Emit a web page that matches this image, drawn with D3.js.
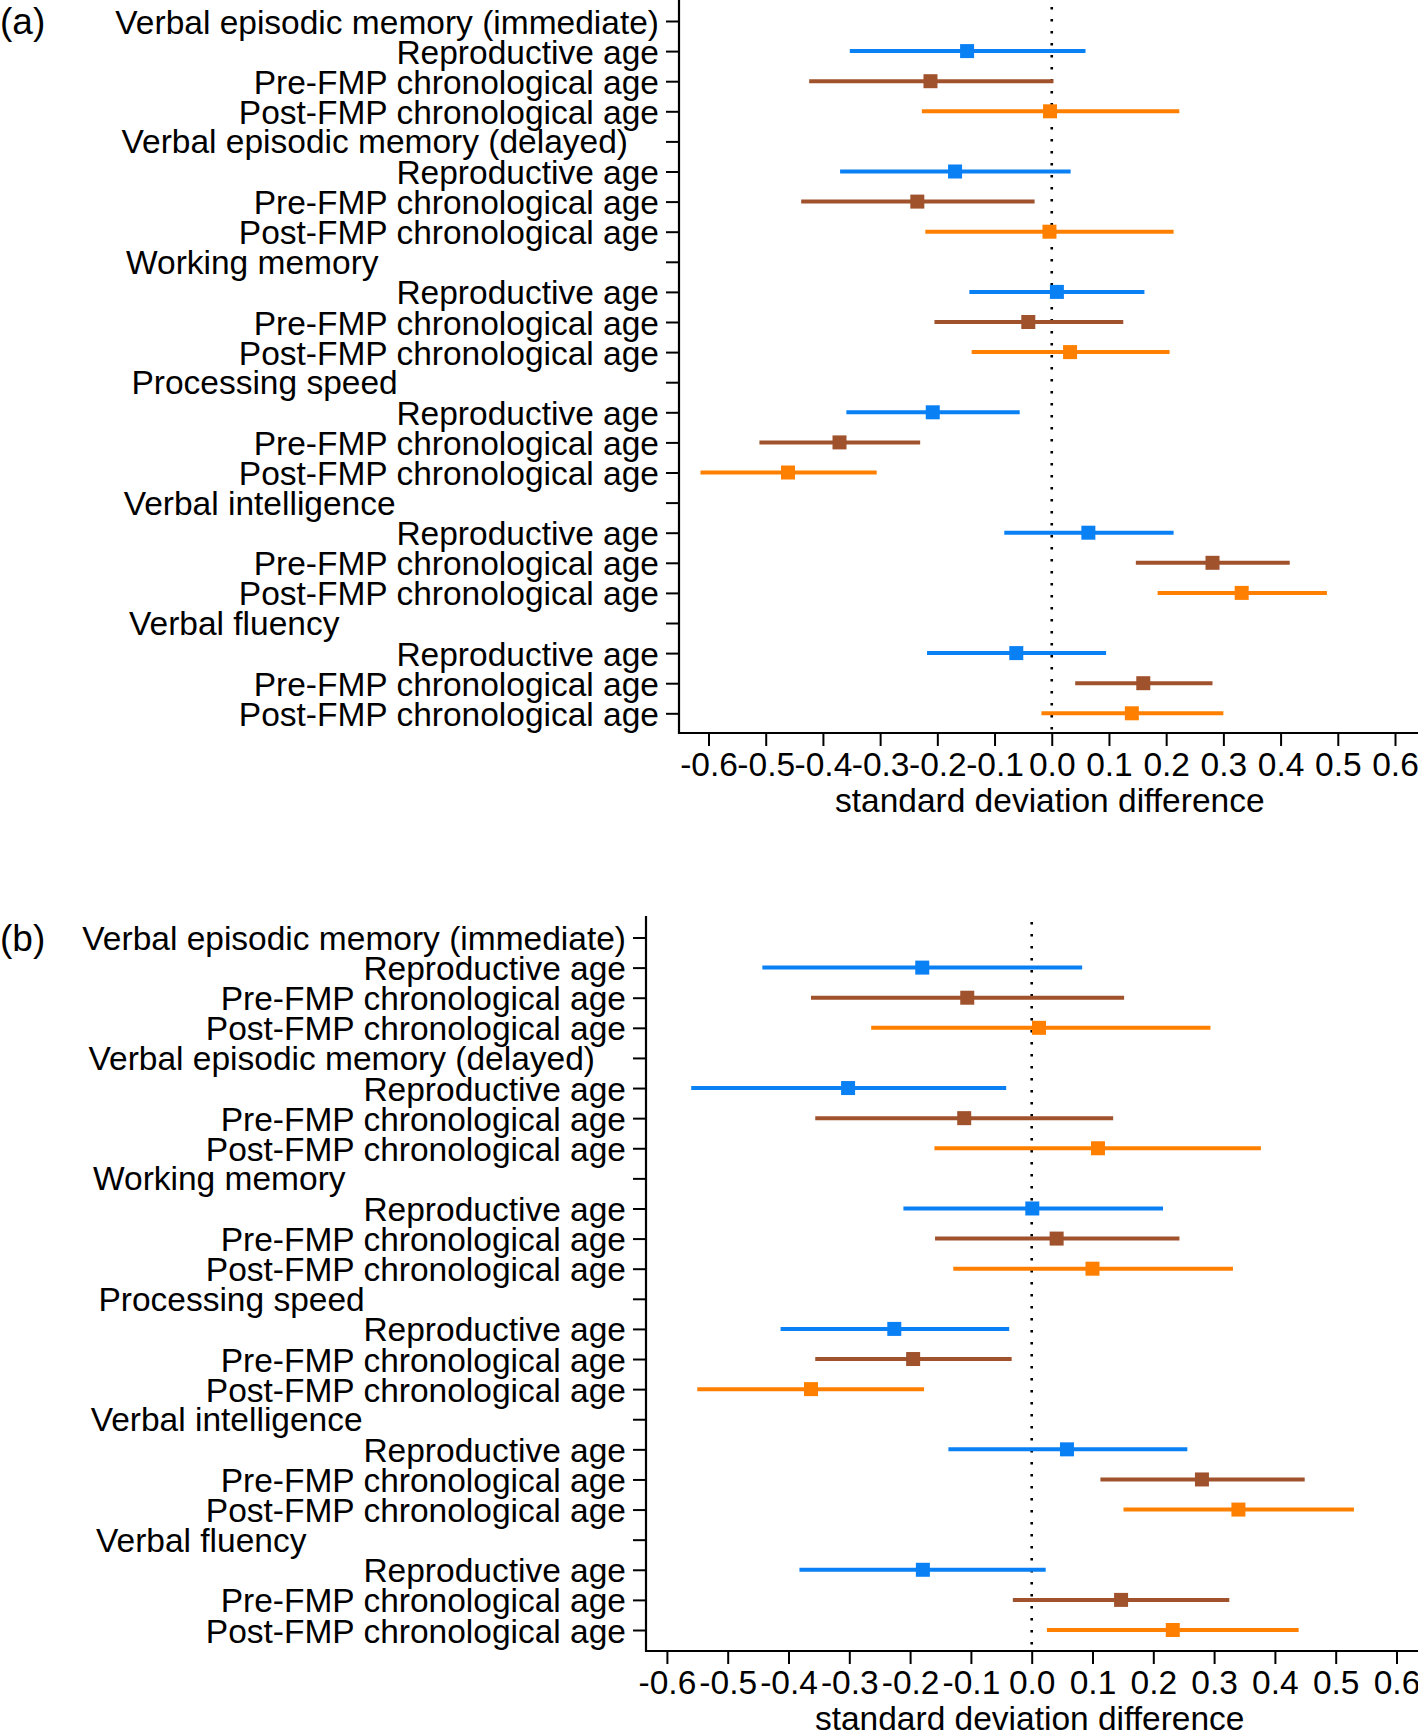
<!DOCTYPE html>
<html><head><meta charset="utf-8">
<script src="https://cdn.jsdelivr.net/npm/d3@7"></script>
<style>
body{margin:0;background:#fff}
svg{display:block}
text{font-family:"Liberation Sans",Arial,Helvetica,sans-serif}
</style>
</head><body>
<script>
// ---------- DATA ----------
const domains = [
  "Verbal episodic memory (immediate)",
  "Verbal episodic memory (delayed)",
  "Working memory",
  "Processing speed",
  "Verbal intelligence",
  "Verbal fluency"
];
const exposures = ["Reproductive age", "Pre-FMP chronological age", "Post-FMP chronological age"];
const tickValues = [-0.6, -0.5, -0.4, -0.3, -0.2, -0.1, 0.0, 0.1, 0.2, 0.3, 0.4, 0.5, 0.6];
const tickLabels = ["-0.6","-0.5","-0.4","-0.3","-0.2","-0.1","0.0","0.1","0.2","0.3","0.4","0.5","0.6"];
const xTitle = "standard deviation difference";

// Panel (a): per domain, [Reproductive, Pre-FMP, Post-FMP]
const aEst = [
  [-0.148, -0.212, -0.003],
  [-0.169, -0.235, -0.004],
  [ 0.009, -0.041,  0.032],
  [-0.208, -0.371, -0.461],
  [ 0.064,  0.281,  0.332],
  [-0.062,  0.160,  0.140]
];
const aLo = [
  [-0.353, -0.424, -0.227],
  [-0.370, -0.438, -0.221],
  [-0.144, -0.205, -0.140],
  [-0.359, -0.511, -0.614],
  [-0.083,  0.147,  0.185],
  [-0.218,  0.041, -0.018]
];
const aHi = [
  [ 0.059,  0.003,  0.223],
  [ 0.033, -0.030,  0.213],
  [ 0.162,  0.125,  0.206],
  [-0.056, -0.230, -0.306],
  [ 0.213,  0.416,  0.481],
  [ 0.095,  0.281,  0.300]
];

// Panel (b)
const bEst = [
  [-0.180, -0.106,  0.012],
  [-0.302, -0.111,  0.109],
  [ 0.001,  0.041,  0.100],
  [-0.226, -0.195, -0.363],
  [ 0.058,  0.280,  0.340],
  [-0.179,  0.147,  0.232]
];
const bLo = [
  [-0.443, -0.363, -0.264],
  [-0.560, -0.356, -0.160],
  [-0.211, -0.159, -0.129],
  [-0.413, -0.356, -0.550],
  [-0.137,  0.113,  0.151],
  [-0.382, -0.031,  0.025]
];
const bHi = [
  [ 0.083,  0.152,  0.294],
  [-0.042,  0.134,  0.377],
  [ 0.216,  0.243,  0.331],
  [-0.037, -0.033, -0.177],
  [ 0.256,  0.449,  0.530],
  [ 0.023,  0.325,  0.439]
];

// ---------- STYLE / LAYOUT ----------
const W = 1418, H = 1731;
const colors = ["#0a80f5", "#a0522d", "#ff8000"];
const fontSize = 33.5;
const tagSize = 37;
const headerOffset = [null, -557.5, -553, -547.6, -555.3, -550]; // left start relative to y axis (null = right aligned)

const panels = [
  {tag:"(a)", est:aEst, lo:aLo, hi:aHi, axisX:679, xr:[708.5,1395], yr:[21,713.3], axisY:733, axisTop:0, dotTop:7},
  {tag:"(b)", est:bEst, lo:bLo, hi:bHi, axisX:646, xr:[666.9,1396.5], yr:[937.5,1630], axisY:1651, axisTop:916, dotTop:922}
];

const svg = d3.select("body").append("svg").attr("width", W).attr("height", H);

panels.forEach(p => {
  const g = svg.append("g");
  const x = d3.scaleLinear().domain([-0.6, 0.6]).range(p.xr);
  const y = d3.scaleLinear().domain([0, 23]).range(p.yr);

  // rows
  const rows = [];
  domains.forEach((d, di) => {
    rows.push({label:d, header:true, di});
    exposures.forEach((e, ei) => rows.push({label:e, header:false, di, ei}));
  });

  // zero reference line (dotted)
  g.append("line")
    .attr("x1", x(0)).attr("x2", x(0))
    .attr("y1", p.dotTop).attr("y2", p.axisY)
    .attr("stroke", "#000").attr("stroke-width", 2.6)
    .attr("stroke-dasharray", "2.6,9.4");

  // y axis ticks and labels
  const yAxis = d3.axisLeft(y)
    .tickValues(d3.range(rows.length))
    .tickSize(13).tickSizeOuter(0).tickPadding(7)
    .tickFormat(i => (rows[i].header && rows[i].di > 0) ? "" : rows[i].label);
  const ya = g.append("g").attr("transform", `translate(${p.axisX},0)`).call(yAxis);
  ya.select(".domain").remove();
  ya.selectAll("line").attr("stroke", "#000").attr("stroke-width", 2);
  ya.selectAll("text").attr("font-size", fontSize).attr("fill", "#000")
    .attr("font-family", '"Liberation Sans",Arial,sans-serif').attr("dy", "0.36em");

  // group headers (left-aligned)
  rows.forEach((r, i) => {
    if (r.header && r.di > 0) {
      g.append("text")
        .attr("x", p.axisX + headerOffset[r.di])
        .attr("y", y(i)).attr("dy", "0.36em")
        .attr("font-size", fontSize).attr("fill", "#000")
        .text(r.label);
    }
  });

  // axis lines
  g.append("line").attr("x1", p.axisX).attr("x2", p.axisX)
    .attr("y1", p.axisTop).attr("y2", p.axisY + 1)
    .attr("stroke", "#000").attr("stroke-width", 2.2);

  const xAxis = d3.axisBottom(x).tickValues(tickValues)
    .tickFormat((d, i) => tickLabels[i]).tickSize(13).tickPadding(6).tickSizeOuter(0);
  const xa = g.append("g").attr("transform", `translate(0,${p.axisY})`).call(xAxis);
  xa.select(".domain").remove();
  xa.selectAll("line").attr("stroke", "#000").attr("stroke-width", 2);
  xa.selectAll("text").attr("font-size", fontSize).attr("fill", "#000")
    .attr("font-family", '"Liberation Sans",Arial,sans-serif');
  g.append("line").attr("x1", p.axisX - 1).attr("x2", W)
    .attr("y1", p.axisY).attr("y2", p.axisY)
    .attr("stroke", "#000").attr("stroke-width", 2.2);

  // x title
  g.append("text").attr("x", x(0) - 2).attr("y", p.axisY + 79)
    .attr("text-anchor", "middle").attr("font-size", fontSize).attr("fill", "#000")
    .text(xTitle);

  // panel tag
  g.append("text").attr("x", 0).attr("y", y(0)).attr("dy", "0.36em")
    .attr("font-size", tagSize).attr("fill", "#000").text(p.tag);

  // estimates
  rows.forEach((r, i) => {
    if (r.header) return;
    const est = p.est[r.di][r.ei], lo = p.lo[r.di][r.ei], hi = p.hi[r.di][r.ei];
    const c = colors[r.ei];
    g.append("line").attr("x1", x(lo)).attr("x2", x(hi))
      .attr("y1", y(i)).attr("y2", y(i))
      .attr("stroke", c).attr("stroke-width", 4);
    g.append("rect").attr("x", x(est) - 7).attr("y", y(i) - 7)
      .attr("width", 14).attr("height", 14).attr("fill", c);
  });
});
</script>
</body></html>
